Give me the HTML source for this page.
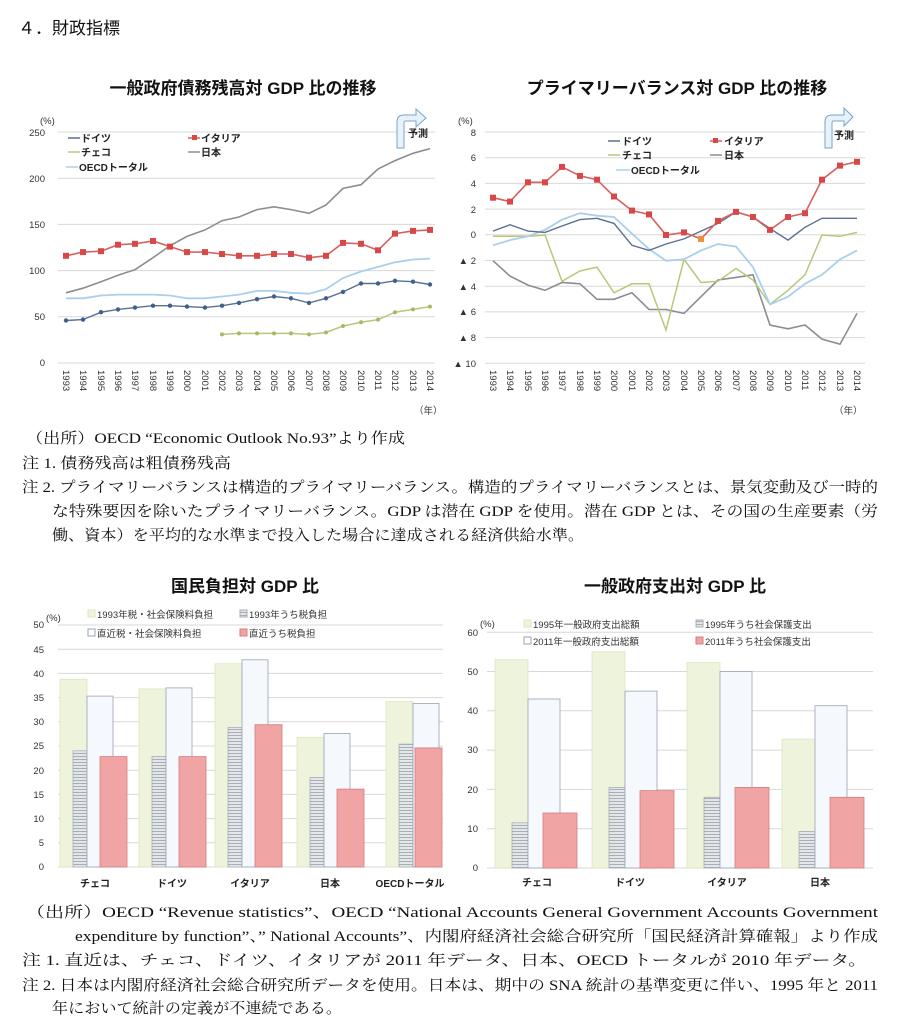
<!DOCTYPE html>
<html><head><meta charset="utf-8"><style>
body{margin:0;background:#fff}
svg{display:block}
.t{font-family:"Liberation Sans","Noto Sans CJK JP",sans-serif}
.s{font-family:"Liberation Serif","Noto Serif CJK SC",serif;font-size:15px;fill:#111}
.ax{font-family:"Liberation Sans","Noto Sans CJK JP",sans-serif;font-size:9.5px;fill:#333}
.lg{font-family:"Liberation Sans","Noto Sans CJK JP",sans-serif;font-size:10px;fill:#222;font-weight:bold}
.g{stroke:#d8d8d8;stroke-width:1}
</style></head><body>
<svg width="902" height="1024" viewBox="0 0 902 1024" xmlns="http://www.w3.org/2000/svg">
<defs>
<pattern id="hz" width="4" height="3" patternUnits="userSpaceOnUse"><rect width="4" height="3" fill="#e4e7ea"/><line x1="0" y1="0.5" x2="4" y2="0.5" stroke="#9aa0a8" stroke-width="0.8"/></pattern>
</defs>
<text x="18" y="34" class="t" font-size="17" fill="#111">４．財政指標</text>

<!-- Chart 1 -->
<text x="243" y="94" class="t" font-size="17" font-weight="bold" text-anchor="middle" fill="#111">一般政府債務残高対 GDP 比の推移</text>
<g class="g">
<line x1="58" y1="363" x2="435" y2="363"/><line x1="58" y1="316.8" x2="435" y2="316.8"/><line x1="58" y1="270.6" x2="435" y2="270.6"/><line x1="58" y1="224.4" x2="435" y2="224.4"/><line x1="58" y1="178.2" x2="435" y2="178.2"/><line x1="58" y1="132" x2="435" y2="132"/>
</g>
<g class="ax" text-anchor="end">
<text x="45" y="366">0</text><text x="45" y="320">50</text><text x="45" y="274">100</text><text x="45" y="228">150</text><text x="45" y="182">200</text><text x="45" y="136">250</text>
</g>
<text x="40" y="124" class="ax" font-size="8">(%)</text>
<polyline fill="none" stroke="#8a8d94" stroke-width="1.6" points="66,292.8 83,288.2 101,281.7 118,275.2 135,269.7 153,257.7 170,245.7 187,236.4 205,229.9 222,220.7 239,217 257,209.6 274,206.8 291,209.6 309,213.3 326,205 343,188.4 361,184.7 378,169 395,160.6 413,153.3 430,148.6"/>
<polyline fill="none" stroke="#a8d0ee" stroke-width="1.8" points="66,298.3 83,298.3 101,295.5 118,294.6 135,294.6 153,294.6 170,295.5 187,298.3 205,298.3 222,296.5 239,294.6 257,290.9 274,290.9 291,292.8 309,293.7 326,289.1 343,278 361,271.5 378,266.9 395,262.3 413,259.5 430,258.6"/>
<polyline fill="none" stroke="#d86060" stroke-width="1.6" points="66,255.8 83,252.1 101,251.2 118,244.7 135,243.8 153,241 170,246.6 187,252.1 205,252.1 222,254 239,255.8 257,255.8 274,254 291,254 309,257.7 326,255.8 343,242.9 361,243.8 378,250.3 395,233.6 413,230.9 430,229.9"/>
<g fill="#d84848"><rect x="63" y="252.8" width="6" height="6"/><rect x="80" y="249.1" width="6" height="6"/><rect x="98" y="248.2" width="6" height="6"/><rect x="115" y="241.7" width="6" height="6"/><rect x="132" y="240.8" width="6" height="6"/><rect x="150" y="238" width="6" height="6"/><rect x="167" y="243.6" width="6" height="6"/><rect x="184" y="249.1" width="6" height="6"/><rect x="202" y="249.1" width="6" height="6"/><rect x="219" y="251" width="6" height="6"/><rect x="236" y="252.8" width="6" height="6"/><rect x="254" y="252.8" width="6" height="6"/><rect x="271" y="251" width="6" height="6"/><rect x="288" y="251" width="6" height="6"/><rect x="306" y="254.7" width="6" height="6"/><rect x="323" y="252.8" width="6" height="6"/><rect x="340" y="239.9" width="6" height="6"/><rect x="358" y="240.8" width="6" height="6"/><rect x="375" y="247.3" width="6" height="6"/><rect x="392" y="230.6" width="6" height="6"/><rect x="410" y="227.9" width="6" height="6"/><rect x="427" y="226.9" width="6" height="6"/></g>
<polyline fill="none" stroke="#5a7090" stroke-width="1.4" points="66,320.5 83,319.6 101,312.2 118,309.4 135,307.6 153,305.7 170,305.7 187,306.6 205,307.6 222,305.7 239,302.9 257,299.2 274,296.5 291,298.3 309,302.9 326,298.3 343,291.9 361,283.5 378,283.5 395,280.8 413,281.7 430,284.5"/>
<g fill="#3f5f8f"><circle cx="66" cy="320.5" r="2.2"/><circle cx="83" cy="319.6" r="2.2"/><circle cx="101" cy="312.2" r="2.2"/><circle cx="118" cy="309.4" r="2.2"/><circle cx="135" cy="307.6" r="2.2"/><circle cx="153" cy="305.7" r="2.2"/><circle cx="170" cy="305.7" r="2.2"/><circle cx="187" cy="306.6" r="2.2"/><circle cx="205" cy="307.6" r="2.2"/><circle cx="222" cy="305.7" r="2.2"/><circle cx="239" cy="302.9" r="2.2"/><circle cx="257" cy="299.2" r="2.2"/><circle cx="274" cy="296.5" r="2.2"/><circle cx="291" cy="298.3" r="2.2"/><circle cx="309" cy="302.9" r="2.2"/><circle cx="326" cy="298.3" r="2.2"/><circle cx="343" cy="291.9" r="2.2"/><circle cx="361" cy="283.5" r="2.2"/><circle cx="378" cy="283.5" r="2.2"/><circle cx="395" cy="280.8" r="2.2"/><circle cx="413" cy="281.7" r="2.2"/><circle cx="430" cy="284.5" r="2.2"/></g>
<polyline fill="none" stroke="#b8c878" stroke-width="1.5" points="222,334.4 239,333.4 257,333.4 274,333.4 291,333.4 309,334.4 326,332.5 343,326 361,322.3 378,319.6 395,312.2 413,309.4 430,306.6"/>
<g fill="#a8b860"><circle cx="222" cy="334.4" r="2"/><circle cx="239" cy="333.4" r="2"/><circle cx="257" cy="333.4" r="2"/><circle cx="274" cy="333.4" r="2"/><circle cx="291" cy="333.4" r="2"/><circle cx="309" cy="334.4" r="2"/><circle cx="326" cy="332.5" r="2"/><circle cx="343" cy="326" r="2"/><circle cx="361" cy="322.3" r="2"/><circle cx="378" cy="319.6" r="2"/><circle cx="395" cy="312.2" r="2"/><circle cx="413" cy="309.4" r="2"/><circle cx="430" cy="306.6" r="2"/></g>
<!-- legend 1 -->
<g stroke-width="1.5"><line x1="68" y1="138" x2="80" y2="138" stroke="#5a7090"/><line x1="188" y1="138" x2="200" y2="138" stroke="#d86060"/><line x1="68" y1="152" x2="80" y2="152" stroke="#b8c878"/><line x1="188" y1="152" x2="200" y2="152" stroke="#8a8d94"/><line x1="66" y1="167" x2="78" y2="167" stroke="#a8d0ee"/></g>
<rect x="192" y="135" width="5" height="5" fill="#d84848"/>
<text x="81" y="142" class="lg">ドイツ</text><text x="201" y="142" class="lg">イタリア</text><text x="81" y="156" class="lg">チェコ</text><text x="201" y="156" class="lg">日本</text><text x="79" y="171" class="lg">OECDトータル</text>
<path d="M397,148 L397,122 Q397,115 404,115 L416,115 L416,109 L426,118 L416,127 L416,121 L405,121 Q404,121 404,124 L404,148 Z" fill="#e8f2fa" stroke="#7aa4c8" stroke-width="1"/>
<text x="408" y="137" class="lg">予測</text>
<g class="ax" font-size="9">
<text transform="translate(63,370) rotate(90)">1993</text><text transform="translate(80,370) rotate(90)">1994</text><text transform="translate(98,370) rotate(90)">1995</text><text transform="translate(115,370) rotate(90)">1996</text><text transform="translate(132,370) rotate(90)">1997</text><text transform="translate(150,370) rotate(90)">1998</text><text transform="translate(167,370) rotate(90)">1999</text><text transform="translate(184,370) rotate(90)">2000</text><text transform="translate(202,370) rotate(90)">2001</text><text transform="translate(219,370) rotate(90)">2002</text><text transform="translate(236,370) rotate(90)">2003</text><text transform="translate(254,370) rotate(90)">2004</text><text transform="translate(271,370) rotate(90)">2005</text><text transform="translate(288,370) rotate(90)">2006</text><text transform="translate(306,370) rotate(90)">2007</text><text transform="translate(323,370) rotate(90)">2008</text><text transform="translate(340,370) rotate(90)">2009</text><text transform="translate(358,370) rotate(90)">2010</text><text transform="translate(375,370) rotate(90)">2011</text><text transform="translate(392,370) rotate(90)">2012</text><text transform="translate(410,370) rotate(90)">2013</text><text transform="translate(427,370) rotate(90)">2014</text>
</g>
<text x="414" y="414" class="ax">（年）</text>

<!-- Chart 2 -->
<text x="677" y="94" class="t" font-size="17" font-weight="bold" text-anchor="middle" fill="#111">プライマリーバランス対 GDP 比の推移</text>
<g class="g">
<line x1="485" y1="132" x2="865" y2="132"/><line x1="485" y1="157.7" x2="865" y2="157.7"/><line x1="485" y1="183.4" x2="865" y2="183.4"/><line x1="485" y1="209.1" x2="865" y2="209.1"/><line x1="485" y1="234.8" x2="865" y2="234.8"/><line x1="485" y1="260.5" x2="865" y2="260.5"/><line x1="485" y1="286.2" x2="865" y2="286.2"/><line x1="485" y1="311.9" x2="865" y2="311.9"/><line x1="485" y1="337.6" x2="865" y2="337.6"/><line x1="485" y1="363.3" x2="865" y2="363.3"/>
</g>
<g class="ax" text-anchor="end">
<text x="476" y="136">8</text><text x="476" y="161">6</text><text x="476" y="187">4</text><text x="476" y="213">2</text><text x="476" y="238">0</text><text x="476" y="264">▲ 2</text><text x="476" y="290">▲ 4</text><text x="476" y="315">▲ 6</text><text x="476" y="341">▲ 8</text><text x="476" y="367">▲ 10</text>
</g>
<text x="458" y="124" class="ax" font-size="8">(%)</text>
<polyline fill="none" stroke="#8a8d94" stroke-width="1.6" points="493,260.7 510,276.1 528,285.1 545,290.3 562,282.5 580,283.8 597,299.3 614,299.3 632,292.8 649,309.5 666,309.5 684,313.4 701,296.7 718,280 736,277.4 753,274.8 770,325 788,328.8 805,325 822,339.1 840,344.2 857,313.4"/>
<polyline fill="none" stroke="#b8c878" stroke-width="1.5" points="493,236.3 510,236.3 528,236.3 545,235 562,281.3 580,271 597,267.1 614,292.8 632,283.8 649,283.8 666,330.1 684,259.4 701,282.5 718,281.3 736,268.4 753,280 770,304.4 788,290.3 805,274.8 822,235 840,236.3 857,232.4"/>
<polyline fill="none" stroke="#a8d0ee" stroke-width="1.8" points="493,245.3 510,240.1 528,236.3 545,229.9 562,219.6 580,213.2 597,215.7 614,217 632,233.7 649,249.1 666,260.7 684,259.4 701,250.4 718,244 736,246.6 753,267.1 770,304.4 788,296.7 805,283.8 822,274.8 840,259.4 857,250.4"/>
<polyline fill="none" stroke="#5a7090" stroke-width="1.4" points="493,231.1 510,224.7 528,231.1 545,232.4 562,226 580,219.6 597,218.3 614,223.4 632,245.3 649,250.4 666,244 684,238.9 701,231.1 718,223.4 736,211.9 753,217 770,228.6 788,240.1 805,227.3 822,218.3 840,218.3 857,218.3"/>
<polyline fill="none" stroke="#d86060" stroke-width="1.6" points="493,197.7 510,201.6 528,182.3 545,182.3 562,166.9 580,175.9 597,179.7 614,196.5 632,210.6 649,214.4 666,235 684,232.4 701,238.9 718,220.9 736,211.9 753,217 770,229.9 788,217 805,213.2 822,179.7 840,165.6 857,161.8"/>
<g fill="#d84848"><rect x="490" y="194.7" width="6" height="6"/><rect x="507" y="198.6" width="6" height="6"/><rect x="525" y="179.3" width="6" height="6"/><rect x="542" y="179.3" width="6" height="6"/><rect x="559" y="163.9" width="6" height="6"/><rect x="577" y="172.9" width="6" height="6"/><rect x="594" y="176.7" width="6" height="6"/><rect x="611" y="193.5" width="6" height="6"/><rect x="629" y="207.6" width="6" height="6"/><rect x="646" y="211.4" width="6" height="6"/><rect x="663" y="232" width="6" height="6"/><rect x="681" y="229.4" width="6" height="6"/><rect x="698" y="235.9" width="6" height="6" fill="#e89040"/><rect x="715" y="217.9" width="6" height="6"/><rect x="733" y="208.9" width="6" height="6"/><rect x="750" y="214" width="6" height="6"/><rect x="767" y="226.9" width="6" height="6"/><rect x="785" y="214" width="6" height="6"/><rect x="802" y="210.2" width="6" height="6"/><rect x="819" y="176.7" width="6" height="6"/><rect x="837" y="162.6" width="6" height="6"/><rect x="854" y="158.8" width="6" height="6"/></g>
<g stroke-width="1.5"><line x1="608" y1="141" x2="620" y2="141" stroke="#5a7090"/><line x1="710" y1="141" x2="722" y2="141" stroke="#d86060"/><line x1="608" y1="155" x2="620" y2="155" stroke="#b8c878"/><line x1="710" y1="155" x2="722" y2="155" stroke="#8a8d94"/><line x1="616" y1="170" x2="630" y2="170" stroke="#a8d0ee"/></g>
<rect x="713" y="138" width="5" height="5" fill="#d84848"/>
<text x="622" y="145" class="lg">ドイツ</text><text x="724" y="145" class="lg">イタリア</text><text x="622" y="159" class="lg">チェコ</text><text x="724" y="159" class="lg">日本</text><text x="631" y="174" class="lg">OECDトータル</text>
<path d="M825,148 L825,122 Q825,115 832,115 L844,115 L844,108 L853,117 L844,126 L844,121 L833,121 Q832,121 832,124 L832,148 Z" fill="#e8f2fa" stroke="#7aa4c8" stroke-width="1"/>
<text x="834" y="139" class="lg">予測</text>
<g class="ax" font-size="9">
<text transform="translate(490,370) rotate(90)">1993</text><text transform="translate(507,370) rotate(90)">1994</text><text transform="translate(525,370) rotate(90)">1995</text><text transform="translate(542,370) rotate(90)">1996</text><text transform="translate(559,370) rotate(90)">1997</text><text transform="translate(577,370) rotate(90)">1998</text><text transform="translate(594,370) rotate(90)">1999</text><text transform="translate(611,370) rotate(90)">2000</text><text transform="translate(629,370) rotate(90)">2001</text><text transform="translate(646,370) rotate(90)">2002</text><text transform="translate(663,370) rotate(90)">2003</text><text transform="translate(681,370) rotate(90)">2004</text><text transform="translate(698,370) rotate(90)">2005</text><text transform="translate(715,370) rotate(90)">2006</text><text transform="translate(733,370) rotate(90)">2007</text><text transform="translate(750,370) rotate(90)">2008</text><text transform="translate(767,370) rotate(90)">2009</text><text transform="translate(785,370) rotate(90)">2010</text><text transform="translate(802,370) rotate(90)">2011</text><text transform="translate(819,370) rotate(90)">2012</text><text transform="translate(837,370) rotate(90)">2013</text><text transform="translate(854,370) rotate(90)">2014</text>
</g>
<text x="834" y="414" class="ax">（年）</text>

<!-- Notes 1 -->
<text x="26" y="443" class="s" textLength="379" lengthAdjust="spacingAndGlyphs">（出所）OECD “Economic Outlook No.93”より作成</text>
<text x="22" y="468" class="s" textLength="209" lengthAdjust="spacingAndGlyphs">注 1.  債務残高は粗債務残高</text>
<text x="22" y="492" class="s" textLength="856" lengthAdjust="spacingAndGlyphs">注 2.  プライマリーバランスは構造的プライマリーバランス。構造的プライマリーバランスとは、景気変動及び一時的</text>
<text x="52" y="516" class="s" textLength="826" lengthAdjust="spacingAndGlyphs">な特殊要因を除いたプライマリーバランス。GDP は潜在 GDP を使用。潜在 GDP とは、その国の生産要素（労</text>
<text x="52" y="540" class="s" textLength="532" lengthAdjust="spacingAndGlyphs">働、資本）を平均的な水準まで投入した場合に達成される経済供給水準。</text>

<!-- Chart 3 -->
<text x="245" y="592" class="t" font-size="17" font-weight="bold" text-anchor="middle" fill="#111">国民負担対 GDP 比</text>
<g class="g">
<line x1="58" y1="867" x2="443" y2="867"/><line x1="58" y1="842.8" x2="443" y2="842.8"/><line x1="58" y1="818.6" x2="443" y2="818.6"/><line x1="58" y1="794.4" x2="443" y2="794.4"/><line x1="58" y1="770.2" x2="443" y2="770.2"/><line x1="58" y1="746" x2="443" y2="746"/><line x1="58" y1="721.8" x2="443" y2="721.8"/><line x1="58" y1="697.6" x2="443" y2="697.6"/><line x1="58" y1="673.4" x2="443" y2="673.4"/><line x1="58" y1="649.2" x2="443" y2="649.2"/><line x1="58" y1="625" x2="443" y2="625"/>
</g>
<g class="ax" text-anchor="end">
<text x="44" y="870">0</text><text x="44" y="846">5</text><text x="44" y="822">10</text><text x="44" y="798">15</text><text x="44" y="774">20</text><text x="44" y="749">25</text><text x="44" y="725">30</text><text x="44" y="701">35</text><text x="44" y="677">40</text><text x="44" y="653">45</text><text x="44" y="628">50</text>
</g>
<text x="46" y="621" class="ax" font-size="8">(%)</text>
<g stroke-width="0.8">
<!-- green -->
<g fill="#eef3dc" stroke="#dde6bf">
<rect x="60" y="679.2" width="27" height="187.8"/><rect x="139" y="688.9" width="27" height="178.1"/><rect x="215" y="663.7" width="27" height="203.3"/><rect x="297" y="737.3" width="27" height="129.7"/><rect x="386" y="701.5" width="27" height="165.5"/>
</g>
<g fill="url(#hz)" stroke="#a8aeb6">
<rect x="73" y="750.8" width="14" height="116.2"/><rect x="152" y="756.6" width="14" height="110.4"/><rect x="228" y="727.6" width="14" height="139.4"/><rect x="310" y="777.5" width="14" height="89.5"/><rect x="399" y="744.1" width="14" height="122.9"/>
</g>
<g fill="#f5f8fd" stroke="#9aa4b2">
<rect x="87" y="696.1" width="26" height="170.9"/><rect x="166" y="687.9" width="26" height="179.1"/><rect x="242" y="659.8" width="26" height="207.2"/><rect x="324" y="733.4" width="26" height="133.6"/><rect x="413" y="703.4" width="26" height="163.6"/>
</g>
<g fill="#f0a4a4" stroke="#d87c7c">
<rect x="100" y="756.6" width="27" height="110.4"/><rect x="179" y="756.6" width="27" height="110.4"/><rect x="255" y="724.7" width="27" height="142.3"/><rect x="337" y="789.1" width="27" height="77.9"/><rect x="415" y="747.9" width="27" height="119.1"/>
</g>
</g>
<g class="lg" font-size="9" text-anchor="middle">
<text x="95" y="887">チェコ</text><text x="172" y="887">ドイツ</text><text x="250" y="887">イタリア</text><text x="330" y="887">日本</text><text x="410" y="887">OECDトータル</text>
</g>
<rect x="88" y="610" width="7" height="7" fill="#eef3dc" stroke="#dde6bf"/><text x="97" y="618" class="ax" font-size="9">1993年税・社会保険料負担</text>
<rect x="240" y="610" width="7" height="7" fill="url(#hz)" stroke="#a8aeb6"/><text x="249" y="618" class="ax" font-size="9">1993年うち税負担</text>
<rect x="88" y="629" width="7" height="7" fill="#fff" stroke="#9aa4b2"/><text x="97" y="637" class="ax" font-size="9">直近税・社会保険料負担</text>
<rect x="240" y="629" width="7" height="7" fill="#f0a4a4" stroke="#d87c7c"/><text x="249" y="637" class="ax" font-size="9">直近うち税負担</text>

<!-- Chart 4 -->
<text x="675" y="592" class="t" font-size="17" font-weight="bold" text-anchor="middle" fill="#111">一般政府支出対 GDP 比</text>
<g class="g">
<line x1="487" y1="868" x2="873" y2="868"/><line x1="487" y1="828.7" x2="873" y2="828.7"/><line x1="487" y1="789.4" x2="873" y2="789.4"/><line x1="487" y1="750.1" x2="873" y2="750.1"/><line x1="487" y1="710.8" x2="873" y2="710.8"/><line x1="487" y1="671.5" x2="873" y2="671.5"/><line x1="487" y1="632.2" x2="873" y2="632.2"/>
</g>
<g class="ax" text-anchor="end">
<text x="478" y="871">0</text><text x="478" y="832">10</text><text x="478" y="793">20</text><text x="478" y="753">30</text><text x="478" y="714">40</text><text x="478" y="675">50</text><text x="478" y="636">60</text>
</g>
<text x="480" y="627" class="ax" font-size="8">(%)</text>
<g stroke-width="0.8">
<g fill="#eef3dc" stroke="#dde6bf">
<rect x="495" y="659.7" width="33" height="208.3"/><rect x="592" y="651.8" width="33" height="216.2"/><rect x="687" y="662.5" width="33" height="205.5"/><rect x="782" y="739.1" width="33" height="128.9"/>
</g>
<g fill="url(#hz)" stroke="#a8aeb6">
<rect x="512" y="822.8" width="16" height="45.2"/><rect x="609" y="787.4" width="16" height="80.6"/><rect x="704" y="797.3" width="16" height="70.7"/><rect x="799" y="831.5" width="16" height="36.5"/>
</g>
<g fill="#f5f8fd" stroke="#9aa4b2">
<rect x="528" y="699" width="32" height="169"/><rect x="625" y="691.1" width="32" height="176.9"/><rect x="720" y="671.5" width="32" height="196.5"/><rect x="815" y="705.7" width="32" height="162.3"/>
</g>
<g fill="#f0a4a4" stroke="#d87c7c">
<rect x="543" y="813" width="34" height="55"/><rect x="640" y="790.6" width="34" height="77.4"/><rect x="735" y="787.4" width="34" height="80.6"/><rect x="830" y="797.3" width="34" height="70.7"/>
</g>
</g>
<g class="lg" font-size="9" text-anchor="middle">
<text x="537" y="886">チェコ</text><text x="630" y="886">ドイツ</text><text x="727" y="886">イタリア</text><text x="820" y="886">日本</text>
</g>
<rect x="524" y="620" width="7" height="7" fill="#eef3dc" stroke="#dde6bf"/><text x="533" y="628" class="ax" font-size="9">1995年一般政府支出総額</text>
<rect x="696" y="620" width="7" height="7" fill="url(#hz)" stroke="#a8aeb6"/><text x="705" y="628" class="ax" font-size="9">1995年うち社会保護支出</text>
<rect x="524" y="637" width="7" height="7" fill="#fff" stroke="#9aa4b2"/><text x="533" y="645" class="ax" font-size="9">2011年一般政府支出総額</text>
<rect x="696" y="637" width="7" height="7" fill="#f0a4a4" stroke="#d87c7c"/><text x="705" y="645" class="ax" font-size="9">2011年うち社会保護支出</text>

<!-- Notes 2 -->
<text x="26" y="917" class="s" textLength="852" lengthAdjust="spacingAndGlyphs">（出所）OECD “Revenue statistics”、OECD “National Accounts General Government Accounts Government</text>
<text x="75" y="941" class="s" textLength="803" lengthAdjust="spacingAndGlyphs">expenditure by function”、” National Accounts”、内閣府経済社会総合研究所「国民経済計算確報」より作成</text>
<text x="22" y="965" class="s" textLength="845" lengthAdjust="spacingAndGlyphs">注 1.  直近は、チェコ、ドイツ、イタリアが 2011 年データ、日本、OECD トータルが 2010 年データ。</text>
<text x="22" y="990" class="s" textLength="856" lengthAdjust="spacingAndGlyphs">注 2.  日本は内閣府経済社会総合研究所データを使用。日本は、期中の SNA 統計の基準変更に伴い、1995 年と 2011</text>
<text x="52" y="1013" class="s" textLength="290" lengthAdjust="spacingAndGlyphs">年において統計の定義が不連続である。</text>
</svg>
</body></html>
